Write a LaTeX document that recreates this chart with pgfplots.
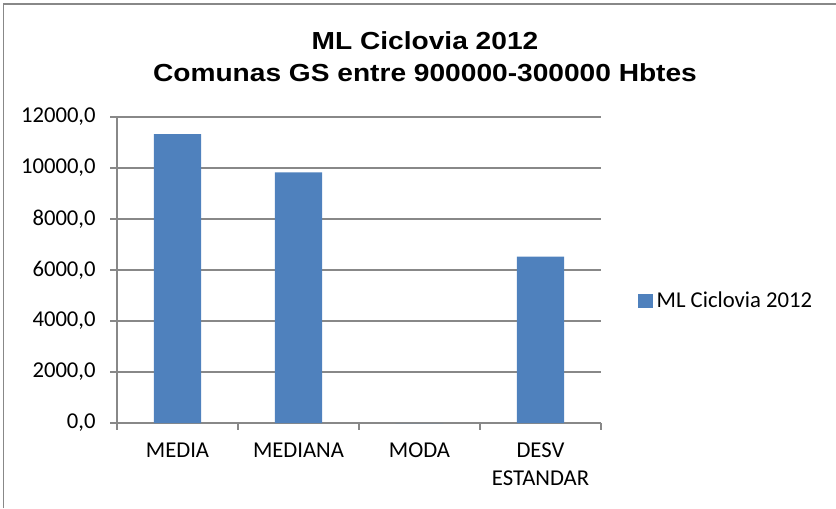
\documentclass[border=0pt]{standalone}
\usepackage{fontspec}
\setmainfont{Carlito}
\newfontfamily\titlefont{Liberation Sans}
\usepackage{pgfplots}
\pgfplotsset{compat=1.18}
\definecolor{barblue}{HTML}{4F81BD}
\definecolor{gridgray}{HTML}{888888}

\begin{document}
\begin{tikzpicture}
% page = 836 x 508 px, 1 px = 0.75 pt, axis lower left at (117,423) px
\useasboundingbox (-87.75pt,-63.75pt) rectangle (539.25pt,317.25pt);
\draw[gridgray, line width=1.2pt] (-85pt,-63.75pt) -- (-85pt,314.25pt) -- (539.25pt,314.25pt);
\begin{axis}[
  scale only axis, width=363pt, height=229.5pt,
  xmin=-0.5, xmax=3.5, ymin=0, ymax=12000,
  axis lines*=left, axis line style={gridgray, line width=1.1pt, -},
  ytick={0,2000,...,12000}, ymajorgrids, scaled y ticks=false,
  grid style={gridgray, line width=1.1pt},
  tick align=outside, tick style={gridgray, line width=1.1pt},
  major tick length=5pt,
  xtick={0,1,2,3},
  xticklabels={{\strut MEDIA},{\strut MEDIANA},{\strut MODA},{\strut DESV\\\strut ESTANDAR}},
  major x tick style={draw=none},
  minor xtick={-0.5,0.5,1.5,2.5,3.5},
  minor tick length=5pt,
  ticklabel style={font=\fontsize{17}{21}\selectfont, text=black},
  xticklabel style={align=center, anchor=north, yshift=-6pt, inner ysep=0pt},
  yticklabel style={anchor=east, xshift=-7.5pt},
  /pgf/number format/.cd, fixed, fixed zerofill, precision=1, use comma,
    1000 sep={}, assume math mode=true,
  /pgfplots/.cd,
  legend style={at={(1.076,0.399)}, anchor=west, draw=none, fill=none,
    font=\fontsize{17}{20}\selectfont, inner sep=0pt,
    nodes={inner sep=3pt}},
  legend image code/.code={\fill[barblue] (0pt,-5.5pt) rectangle (11pt,5.5pt);},
]
\addplot[ybar, bar width=35.5pt, fill=barblue, draw=none] coordinates {
  (0,11330) (1,9830) (2,0) (3,6525)};
\addlegendentry{ML Ciclovia 2012}
\end{axis}
\node[font=\titlefont\bfseries\fontsize{18.5}{24}\selectfont, align=center]
  at (231pt,274.5pt) {\scalebox{1.14}[1]{ML Ciclovia 2012}\\\scalebox{1.14}[1]{Comunas GS entre 900000-300000 Hbtes}};
\end{tikzpicture}
\end{document}
